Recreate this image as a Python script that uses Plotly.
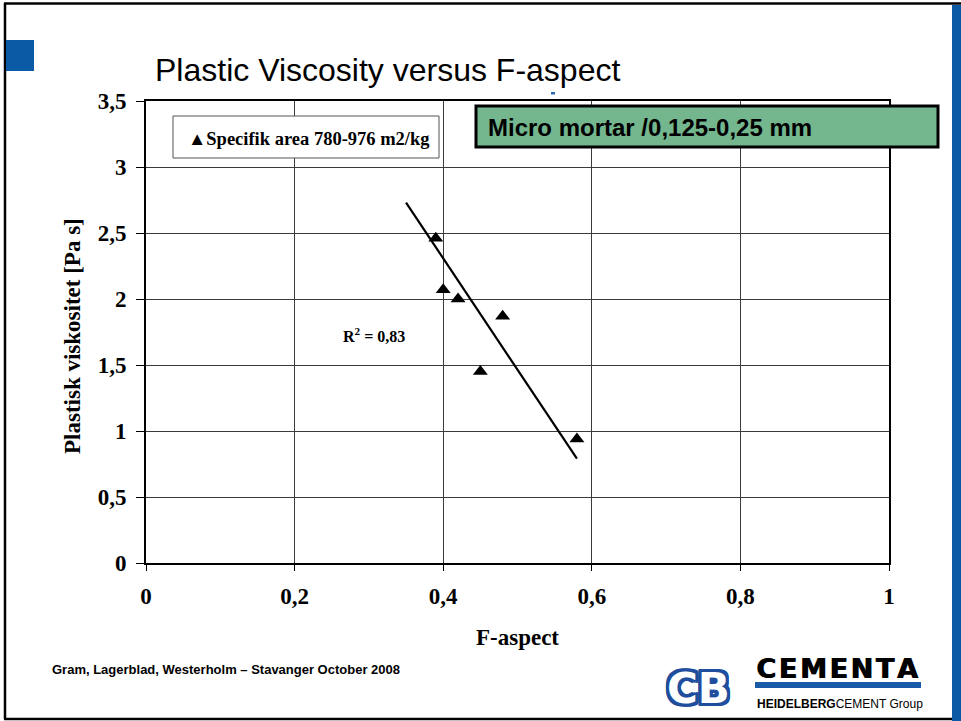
import plotly.graph_objects as go

# ---------------- data ----------------
f_aspect = [0.39, 0.40, 0.42, 0.45, 0.48, 0.58]
plastic_viscosity = [2.46, 2.07, 2.00, 1.45, 1.87, 0.94]
trend_x = [0.35, 0.58]
trend_y = [2.73, 0.79]

x_tick_vals = [0, 0.2, 0.4, 0.6, 0.8, 1]
x_tick_text = ["0", "0,2", "0,4", "0,6", "0,8", "1"]
y_tick_vals = [0, 0.5, 1, 1.5, 2, 2.5, 3, 3.5]
y_tick_text = ["0", "0,5", "1", "1,5", "2", "2,5", "3", "3,5"]

title_text = "Plastic Viscosity versus F-aspect"
legend_text = "▲Specifik area 780-976 m2/kg"
box_text = "Micro mortar /0,125-0,25 mm"
r2_text = "R<sup>2</sup> = 0,83"
x_title = "F-aspect"
y_title = "Plastisk viskositet [Pa s]"
footer_text = "Gram, Lagerblad, Westerholm – Stavanger October 2008"
logo_cb = "CB"
logo_cementa = "\u200a".join("CEMENTA")
logo_group = "<b>HEIDELBERG</b>CEMENT Group"

# ---------------- layout helpers ----------------
W, H = 961, 721
L, R, T, B = 146, 889, 101, 563


def px(x):
    return (x - L) / (R - L)


def py(y):
    return (B - y) / (B - T)


SERIF = "Liberation Serif, Times New Roman, serif"
SANS = "Liberation Sans, Arial, sans-serif"
BLUE = "#0B5AA6"

fig = go.Figure()

fig.add_trace(go.Scatter(
    x=f_aspect, y=plastic_viscosity, mode="markers",
    marker=dict(symbol="triangle-up", size=13, color="black"),
    showlegend=False, hoverinfo="x+y",
))
fig.add_trace(go.Scatter(
    x=trend_x, y=trend_y, mode="lines",
    line=dict(color="black", width=2.2),
    showlegend=False, hoverinfo="skip",
))

axis_common = dict(
    showgrid=True, gridcolor="#3a3a3a", gridwidth=1,
    showline=True, linecolor="black", linewidth=1.6, mirror=True,
    ticks="outside", tickcolor="black", tickwidth=1.2,
    zeroline=False,
    tickfont=dict(family=SERIF, size=23, color="black", weight="bold"),
)

fig.update_xaxes(range=[0, 1], tickvals=x_tick_vals, ticktext=x_tick_text,
                 ticklen=6, ticklabelstandoff=6, **axis_common)
fig.update_yaxes(range=[0, 3.5], tickvals=y_tick_vals, ticktext=y_tick_text,
                 ticklen=8, ticklabelstandoff=5, **axis_common)

shapes = []
# slide frame
shapes.append(dict(type="line", xref="paper", yref="paper",
                   x0=px(4), x1=px(961), y0=py(3.5), y1=py(3.5),
                   line=dict(color="black", width=2.5)))
shapes.append(dict(type="line", xref="paper", yref="paper",
                   x0=px(5), x1=px(5), y0=py(3), y1=py(719),
                   line=dict(color="black", width=2.5)))
shapes.append(dict(type="line", xref="paper", yref="paper",
                   x0=px(4), x1=px(953), y0=py(719), y1=py(719),
                   line=dict(color="black", width=2.5)))
# blue right bar
shapes.append(dict(type="rect", xref="paper", yref="paper",
                   x0=px(952), x1=px(962), y0=py(5), y1=py(722),
                   fillcolor=BLUE, line=dict(width=0)))
# blue square top-left
shapes.append(dict(type="rect", xref="paper", yref="paper",
                   x0=px(6), x1=px(34), y0=py(40), y1=py(71),
                   fillcolor=BLUE, line=dict(width=0)))
# small blue dash
shapes.append(dict(type="rect", xref="paper", yref="paper",
                   x0=px(551), x1=px(555), y0=py(92), y1=py(94.5),
                   fillcolor="#2A6BB8", line=dict(width=0)))
# legend box
shapes.append(dict(type="rect", xref="paper", yref="paper",
                   x0=px(173), x1=px(439), y0=py(116), y1=py(158),
                   fillcolor="white", line=dict(color="#555555", width=1)))
# green label box
shapes.append(dict(type="rect", xref="paper", yref="paper",
                   x0=px(476), x1=px(938), y0=py(106), y1=py(147),
                   fillcolor="#74B78F", line=dict(color="black", width=3)))
# blue bar under CEMENTA
shapes.append(dict(type="rect", xref="paper", yref="paper",
                   x0=px(755), x1=px(921), y0=py(682), y1=py(688),
                   fillcolor="#1A5BA8", line=dict(width=0)))

annotations = []


def add_text(text, x, y, size, family, xanchor="left", yanchor="middle",
             bold=False, color="black", angle=0, shadow=None):
    font = dict(family=family, size=size, color=color,
                weight="bold" if bold else "normal")
    if shadow:
        font["shadow"] = shadow
    annotations.append(dict(
        text=text, xref="paper", yref="paper", x=px(x), y=py(y),
        xanchor=xanchor, yanchor=yanchor, showarrow=False, textangle=angle,
        font=font,
    ))


add_text(title_text, 153, 70, 32, SANS)
add_text(legend_text, 186, 139, 18.5, SERIF, bold=True)
add_text(box_text, 486, 127, 24, SANS, bold=True)
add_text(r2_text, 341, 335, 16, SERIF, bold=True)
add_text(x_title, 517, 637, 23, SERIF, xanchor="center", bold=True)
add_text(y_title, 72, 336, 23, SERIF, xanchor="center", bold=True, angle=-90)
add_text(footer_text, 50, 669, 13, SANS, bold=True)
cb_outline = ", ".join(f"{dx}px {dy}px 0 #1E4E9C"
                       for dx in (-3, -2, 0, 2, 3) for dy in (-3, -2, 0, 2, 3)
                       if (dx, dy) != (0, 0))
add_text(logo_cb, 698, 688, 42, "DejaVu Sans", xanchor="center", bold=True,
         color="white", shadow=cb_outline)
add_text(logo_cementa, 754, 668, 27, "DejaVu Sans", bold=True,
         shadow="1px 0px 0 black")
add_text(logo_group, 755, 704, 12, SANS)

fig.update_layout(
    width=W, height=H,
    margin=dict(l=L, r=W - R, t=T, b=H - B, autoexpand=False),
    paper_bgcolor="white", plot_bgcolor="white",
    shapes=shapes, annotations=annotations,
    showlegend=False,
)

fig.write_html("out.html", config={"displayModeBar": False},
               post_script="document.body.style.margin='0';")
